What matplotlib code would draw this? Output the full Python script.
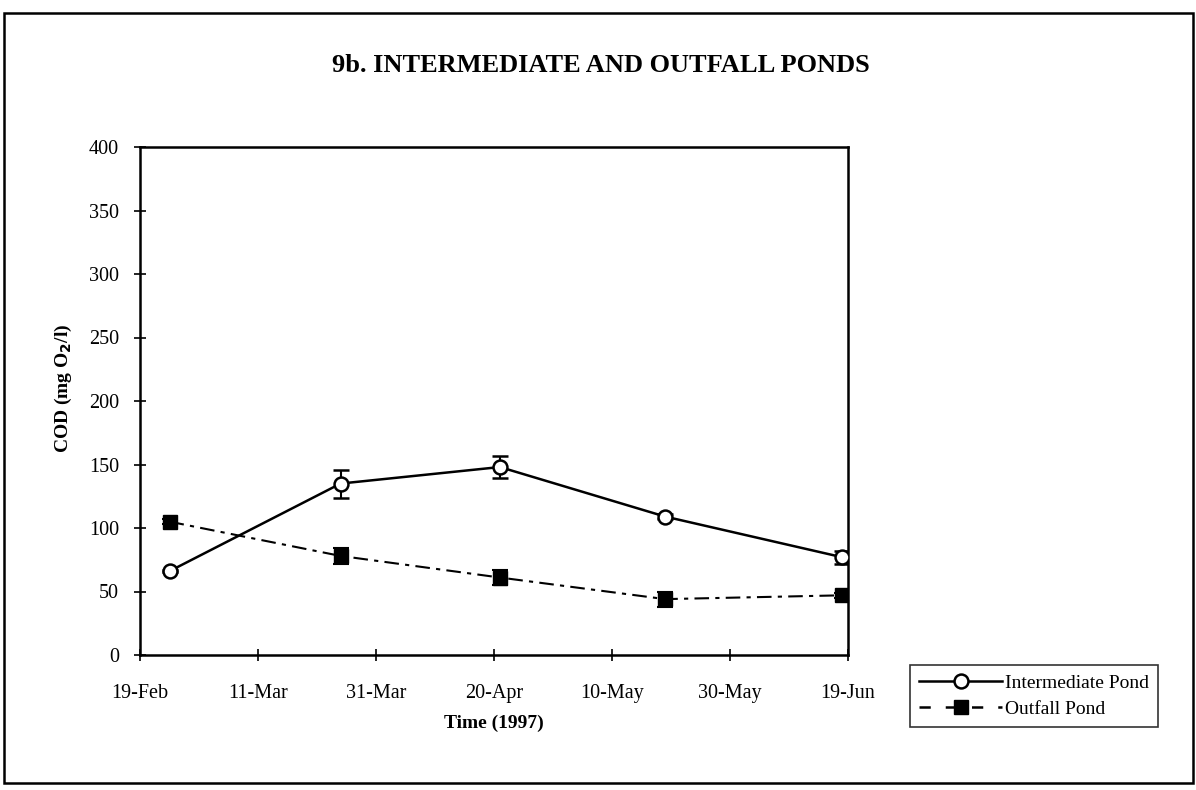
import datetime as dt

import matplotlib
matplotlib.use("Agg")
import matplotlib.pyplot as plt
import matplotlib.dates as mdates
from matplotlib.lines import Line2D
from matplotlib.patches import Rectangle

plt.rcParams["font.family"] = ["Liberation Serif", "DejaVu Serif"]

# sampling dates (1997)
dates = [dt.date(1997, 2, 24), dt.date(1997, 3, 25), dt.date(1997, 4, 21),
         dt.date(1997, 5, 19), dt.date(1997, 6, 18)]

intermediate = [66, 135, 148, 109, 77]
intermediate_err = [1, 11, 9, 2, 5]

outfall = [105, 78, 61, 44, 47]
outfall_err = [2, 6, 6, 6, 2]

tick_dates = [dt.date(1997, 2, 19), dt.date(1997, 3, 11), dt.date(1997, 3, 31),
              dt.date(1997, 4, 20), dt.date(1997, 5, 10), dt.date(1997, 5, 30),
              dt.date(1997, 6, 19)]
y_ticks = [0, 50, 100, 150, 200, 250, 300, 350, 400]

fig = plt.figure(figsize=(11.96, 7.90), dpi=100)
ax = fig.add_axes([140 / 1196, 1 - 655 / 790, 708 / 1196, 508 / 790])

ax.errorbar(dates, intermediate, yerr=intermediate_err, color="black", lw=1.8,
            marker="o", ms=10, mfc="white", mec="black", mew=1.8,
            capsize=6, elinewidth=1.5, capthick=1.5, zorder=3)
ax.errorbar(dates, outfall, yerr=outfall_err, color="black", lw=1.5,
            ls=(0, (7, 3, 2, 3)), marker="s", ms=10, mfc="black", mec="black",
            capsize=6, elinewidth=1.5, capthick=1.5, zorder=3)

ax.set_xlim(tick_dates[0], tick_dates[-1])
ax.set_ylim(0, 400)
ax.set_xticks(tick_dates)
ax.xaxis.set_major_formatter(mdates.DateFormatter("%d-%b"))
ax.set_yticks(y_ticks)
ax.tick_params(direction="inout", length=8, width=1.2, labelsize=14.5)
ax.tick_params(axis="x", pad=17)
ax.tick_params(axis="y", pad=11)
for s in ax.spines.values():
    s.set_linewidth(1.8)

ax.set_xlabel("Time (1997)", fontsize=14, fontweight="bold")
ax.xaxis.set_label_coords(0.5, -0.118)
ax.set_ylabel("COD (mg O$_\\mathbf{2}$/l)", fontsize=14, fontweight="bold")
ax.yaxis.set_label_coords(-0.093, 0.526)

fig.text(0.502, 1 - 65 / 790, "9b. INTERMEDIATE AND OUTFALL PONDS",
         ha="center", va="center", fontsize=19, fontweight="bold")

handles = [
    Line2D([], [], color="black", lw=1.8, marker="o", ms=10, mfc="white", mew=1.8),
    Line2D([], [], color="black", lw=1.8, ls=(0, (4.5, 6)), marker="s", ms=10, mfc="black"),
]
leg = fig.legend(handles, ["Intermediate Pond", "Outfall Pond"],
                 loc="center", bbox_to_anchor=(1034 / 1196, 1 - 696 / 790),
                 fontsize=14, frameon=True, fancybox=False, edgecolor="black",
                 handlelength=4.3, handletextpad=0.15, borderpad=0.45, labelspacing=0.45)
leg.get_frame().set_linewidth(1.2)

# outer chart border
fig.patches.append(Rectangle((4 / 1196, 1 - 783 / 790), 1189 / 1196, 770 / 790,
                             transform=fig.transFigure, fill=False, ec="black", lw=1.8))

fig.savefig("out.png", dpi=100)
